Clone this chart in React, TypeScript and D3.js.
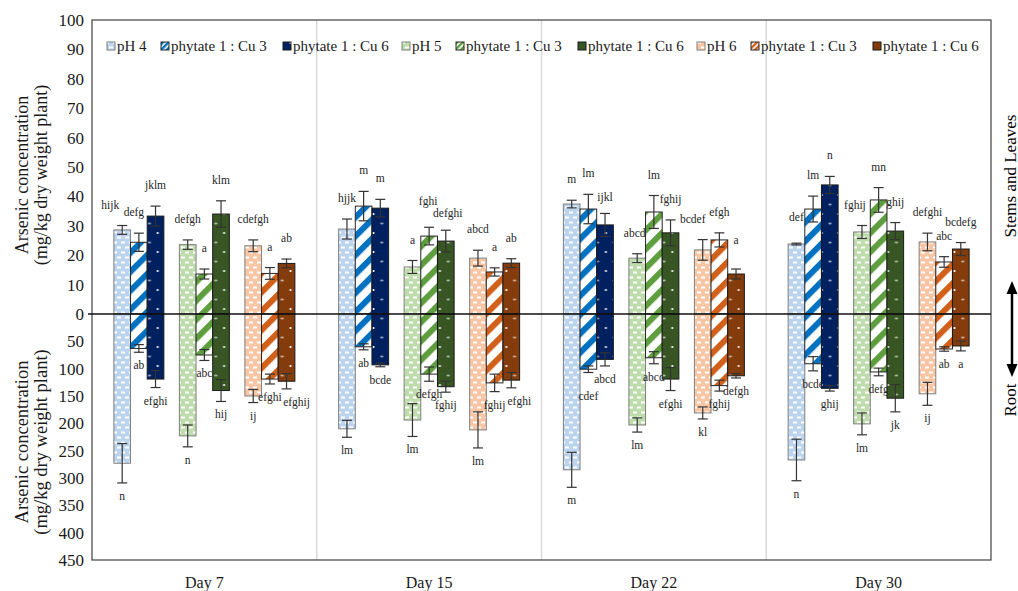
import * as d3 from 'd3';

const WIDTH = 1018;
const HEIGHT = 591;
const PLOT = { left: 92, right: 991, top: 20, bottom: 560, zero: 314 };
const FONT = 'Liberation Serif, Times New Roman, DejaVu Serif, serif';

const days = ['Day 7', 'Day 15', 'Day 22', 'Day 30'];
const phLevels = ['pH 4', 'pH 5', 'pH 6'];
const treatments = ['pH', 'phytate 1 : Cu 3', 'phytate 1 : Cu 6'];
const upperTicks = [0, 10, 20, 30, 40, 50, 60, 70, 80, 90, 100];
const lowerTicks = [50, 100, 150, 200, 250, 300, 350, 400, 450];

// stems and leaves (upper half), one value per day
const stemsPh4 = [28.6, 28.9, 37.4, 23.8];
const stemsPh4Cu3 = [24.4, 36.7, 35.7, 35.7];
const stemsPh4Cu6 = [33.3, 36, 30.3, 43.9];
const stemsPh5 = [23.6, 16, 19, 27.9];
const stemsPh5Cu3 = [13.6, 26.5, 34.7, 38.8];
const stemsPh5Cu6 = [34, 24.8, 27.6, 28.2];
const stemsPh6 = [23.2, 19, 21.8, 24.5];
const stemsPh6Cu3 = [13.8, 14.3, 25.2, 17.7];
const stemsPh6Cu6 = [17.2, 17.3, 13.6, 22.1];

const stemsErrPh4 = [1.5, 3.4, 1.3, 0.3];
const stemsErrPh4Cu3 = [3.1, 5, 5, 4.4];
const stemsErrPh4Cu6 = [3.4, 3, 3.9, 2.9];
const stemsErrPh5 = [1.6, 2.2, 1.5, 2.2];
const stemsErrPh5Cu3 = [1.7, 3, 5.6, 4.2];
const stemsErrPh5Cu6 = [4.5, 3.7, 4.4, 2.9];
const stemsErrPh6 = [2, 2.7, 3.5, 3];
const stemsErrPh6Cu3 = [2, 1.4, 2.4, 1.8];
const stemsErrPh6Cu6 = [1.5, 1.5, 1.7, 2.2];

// root (lower half)
const rootPh4 = [273, 210, 285, 267];
const rootPh4Cu3 = [63, 60, 101, 91];
const rootPh4Cu6 = [119, 93, 83, 136];
const rootPh5 = [223, 194, 203, 201];
const rootPh5Cu3 = [75, 110, 80, 106];
const rootPh5Cu6 = [140, 133, 119, 154];
const rootPh6 = [150, 212, 181, 146];
const rootPh6Cu3 = [119, 126, 131, 64];
const rootPh6Cu6 = [123, 121, 113, 58.5];

const rootErrPh4 = [36, 15.5, 32, 38];
const rootErrPh4Cu3 = [7, 5.5, 6, 13];
const rootErrPh4Cu6 = [15.5, 3.5, 12, 5];
const rootErrPh5 = [20, 30, 13, 20];
const rootErrPh5Cu3 = [10, 13, 11, 7];
const rootErrPh5Cu6 = [20, 10, 21, 25];
const rootErrPh6 = [12, 33, 11, 21];
const rootErrPh6Cu3 = [9, 16, 10, 4];
const rootErrPh6Cu6 = [14, 14, 4, 9];

// significance letters
const stemsLetters = [
  ['hijk', 'hjjk', 'm', 'def'],
  ['defg', 'm', 'lm', 'lm'],
  ['jklm', 'm', 'ijkl', 'n'],
  ['defgh', 'a', 'abcde', 'fghij'],
  ['a', 'fghi', 'lm', 'mn'],
  ['klm', 'defghi', 'fghij', 'ghij'],
  ['cdefgh', 'abcd', 'bcdef', 'defghi'],
  ['a', 'a', 'efgh', 'abc'],
  ['ab', 'ab', 'a', 'bcdefg'],
];
const rootLetters = [
  ['n', 'lm', 'm', 'n'],
  ['ab', 'ab', 'cdef', 'bcde'],
  ['efghi', 'bcde', 'abcd', 'ghij'],
  ['n', 'lm', 'lm', 'lm'],
  ['abc', 'defgh', 'abcd', 'defg'],
  ['hij', 'fghij', 'efghi', 'jk'],
  ['ij', 'lm', 'kl', 'ij'],
  ['efghi', 'fghij', 'fghij', 'ab'],
  ['efghij', 'efghi', 'defgh', 'a'],
];

const stems = [stemsPh4, stemsPh4Cu3, stemsPh4Cu6, stemsPh5, stemsPh5Cu3, stemsPh5Cu6, stemsPh6, stemsPh6Cu3, stemsPh6Cu6];
const stemsErr = [stemsErrPh4, stemsErrPh4Cu3, stemsErrPh4Cu6, stemsErrPh5, stemsErrPh5Cu3, stemsErrPh5Cu6, stemsErrPh6, stemsErrPh6Cu3, stemsErrPh6Cu6];
const roots = [rootPh4, rootPh4Cu3, rootPh4Cu6, rootPh5, rootPh5Cu3, rootPh5Cu6, rootPh6, rootPh6Cu3, rootPh6Cu6];
const rootsErr = [rootErrPh4, rootErrPh4Cu3, rootErrPh4Cu6, rootErrPh5, rootErrPh5Cu3, rootErrPh5Cu6, rootErrPh6, rootErrPh6Cu3, rootErrPh6Cu6];

// colours per pH level: light fill, stripe, dark fill
const lightColors = ['#bcd4ee', '#bfdcad', '#f8c6a4'];
const stripeColors = ['#0070c0', '#5f9e3f', '#d0601a'];
const darkColors = ['#002060', '#375623', '#843c0c'];
const barStrokes = ['#7f7f7f', '#262626', '#1a1a1a'];

// small hand placement of letters, like the text boxes in the original
const upperNudge: Record<string, [number, number]> = {
  '0-0': [-12, 0], '1-0': [-5, 0], '6-2': [-10, 0], '8-2': [0, -8],
  '3-3': [-7, 0], '0-3': [0, -5], '2-2': [0, 5], '5-1': [2, 4], '4-1': [-1, -5],
};
const lowerNudge: Record<string, [number, number]> = {
  '8-0': [10, 0], '8-1': [8, 0], '1-2': [0, 10],
};
const LEGEND_STEP = [54, 122, 119];

function patternId(p: number, t: number) {
  return `pat-${p}-${t}`;
}

function Patterns() {
  return (
    <defs>
      {phLevels.map((_, p) => (
        <g key={p}>
          <pattern id={patternId(p, 0)} patternUnits="userSpaceOnUse" width={8} height={10}>
            <rect width={8} height={10} fill={lightColors[p]} />
            <rect x={1} y={1.5} width={4} height={2} fill="#fff" />
            <rect x={5} y={6.5} width={4} height={2} fill="#fff" />
            <rect x={-3} y={6.5} width={4} height={2} fill="#fff" />
          </pattern>
          <pattern id={patternId(p, 1)} patternUnits="userSpaceOnUse" width={13.4} height={13.4} patternTransform="rotate(45)">
            <rect width={13.4} height={13.4} fill="#fff" />
            <rect width={6} height={13.4} fill={stripeColors[p]} />
          </pattern>
          <pattern id={patternId(p, 2)} patternUnits="userSpaceOnUse" width={16.6} height={19}>
            <rect width={16.6} height={19} fill={darkColors[p]} />
            <circle cx={8.3} cy={5} r={1.1} fill="#fff" />
            <circle cx={0.6} cy={14.5} r={1} fill="#fff" opacity={0.6} />
            <circle cx={16} cy={14.5} r={1} fill="#fff" opacity={0.6} />
          </pattern>
          <pattern id={`leg-${p}`} patternUnits="userSpaceOnUse" width={4} height={4} patternTransform="rotate(45)">
            <rect width={4} height={4} fill="#fff" />
            <rect width={2.4} height={4} fill={stripeColors[p]} />
          </pattern>
        </g>
      ))}
    </defs>
  );
}

export default function App() {
  const xDay = d3.scaleBand().domain(days).range([PLOT.left, PLOT.right]);
  const xPh = d3.scaleBand().domain(phLevels).range([0, xDay.bandwidth()]).paddingInner(0.237).paddingOuter(0.334);
  const xTrt = d3.scaleBand().domain(treatments).range([0, xPh.bandwidth()]);
  const yUp = d3.scaleLinear().domain([0, 100]).range([PLOT.zero, PLOT.top]);
  const yDown = d3.scaleLinear().domain([0, 450]).range([PLOT.zero, PLOT.bottom]);
  const bw = xTrt.bandwidth();

  const marks: JSX.Element[] = [];
  stems.forEach((vals, s) => {
    const p = Math.floor(s / 3);
    const t = s % 3;
    vals.forEach((v, d) => {
      const x = (xDay(days[d]) ?? 0) + (xPh(phLevels[p]) ?? 0) + (xTrt(treatments[t]) ?? 0);
      const cx = x + bw / 2;
      const e = stemsErr[s][d];
      const r = roots[s][d];
      const re = rootsErr[s][d];
      const un = upperNudge[`${s}-${d}`] ?? [0, 0];
      const ln = lowerNudge[`${s}-${d}`] ?? [0, 0];
      marks.push(
        <g key={`${s}-${d}`}>
          <rect x={x} y={yUp(v)} width={bw} height={PLOT.zero - yUp(v)} fill={`url(#${patternId(p, t)})`} stroke={barStrokes[t]} strokeWidth={1} />
          <rect x={x} y={PLOT.zero} width={bw} height={yDown(r) - PLOT.zero} fill={`url(#${patternId(p, t)})`} stroke={barStrokes[t]} strokeWidth={1} />
          <g stroke="#333" strokeWidth={1.2}>
            <line x1={cx} x2={cx} y1={yUp(v + e)} y2={yUp(v - e)} />
            <line x1={cx - 5} x2={cx + 5} y1={yUp(v + e)} y2={yUp(v + e)} />
            <line x1={cx - 5} x2={cx + 5} y1={yUp(v - e)} y2={yUp(v - e)} />
            <line x1={cx} x2={cx} y1={yDown(r - re)} y2={yDown(r + re)} />
            <line x1={cx - 5} x2={cx + 5} y1={yDown(r - re)} y2={yDown(r - re)} />
            <line x1={cx - 5} x2={cx + 5} y1={yDown(r + re)} y2={yDown(r + re)} />
          </g>
          <text x={cx + un[0]} y={yUp(v + e) - 21 + un[1]} dy="0.35em" textAnchor="middle" fontSize={11.5} fill="#262626">
            {stemsLetters[s][d]}
          </text>
          <text x={cx + ln[0]} y={yDown(r + re) + 13 + ln[1]} dy="0.35em" textAnchor="middle" fontSize={11.5} fill="#262626">
            {rootLetters[s][d]}
          </text>
        </g>
      );
    });
  });

  // legend positions
  const legendItems: { label: string; p: number; t: number; x: number }[] = [];
  let lx = 107;
  phLevels.forEach((ph, p) => {
    treatments.forEach((trt, t) => {
      legendItems.push({ label: t === 0 ? ph : trt, p, t, x: lx });
      lx += LEGEND_STEP[t];
    });
  });

  return (
    <svg width={WIDTH} height={HEIGHT} style={{ position: 'absolute', left: 0, top: 0, background: '#fff', fontFamily: FONT }}>
      <Patterns />
      <rect width={WIDTH} height={HEIGHT} fill="#fff" />

      {/* day separators */}
      {days.slice(1).map((d) => (
        <line key={d} x1={xDay(d)} x2={xDay(d)} y1={PLOT.top} y2={PLOT.bottom} stroke="#d9d9d9" strokeWidth={1.5} />
      ))}

      {marks}

      {/* frame */}
      <rect x={PLOT.left} y={PLOT.top} width={PLOT.right - PLOT.left} height={PLOT.bottom - PLOT.top} fill="none" stroke="#404040" strokeWidth={1.2} />
      <line x1={PLOT.left - 4} x2={PLOT.right} y1={PLOT.zero} y2={PLOT.zero} stroke="#111" strokeWidth={1.3} />

      {/* tick labels */}
      {upperTicks.map((t) => (
        <text key={`u${t}`} x={84} y={yUp(t)} dy="0.35em" textAnchor="end" fontSize={17} fill="#1a1a1a">{t}</text>
      ))}
      {lowerTicks.map((t) => (
        <text key={`l${t}`} x={84} y={yDown(t)} dy="0.35em" textAnchor="end" fontSize={17} fill="#1a1a1a">{t}</text>
      ))}

      {/* category labels */}
      {days.map((d) => (
        <text key={d} x={(xDay(d) ?? 0) + xDay.bandwidth() / 2} y={588} textAnchor="middle" fontSize={16} fill="#1a1a1a">{d}</text>
      ))}

      {/* axis titles */}
      <g fontSize={18} fill="#1a1a1a" textAnchor="middle" dominantBaseline="central">
        <text transform={`translate(22,${(yUp(100) + PLOT.zero) / 2 + 8}) rotate(-90)`}>Arsenic  concentration</text>
        <text transform={`translate(41,${(yUp(100) + PLOT.zero) / 2 + 8}) rotate(-90)`}>(mg/kg dry weight plant)</text>
        <text transform={`translate(22,${(yDown(450) + PLOT.zero) / 2 + 5}) rotate(-90)`} fontSize={18.5}>Arsenic  concentration</text>
        <text transform={`translate(41,${(yDown(450) + PLOT.zero) / 2 + 5}) rotate(-90)`} fontSize={18.5}>(mg/kg dry weight plant)</text>
      </g>

      {/* legend */}
      {legendItems.map((it, i) => (
        <g key={i}>
          <rect x={it.x} y={42} width={8} height={8} fill={it.t === 1 ? `url(#leg-${it.p})` : `url(#${patternId(it.p, it.t)})`} stroke={barStrokes[it.t]} strokeWidth={1} />
          <text x={it.x + 10} y={51} fontSize={15} fill="#1a1a1a">{it.label}</text>
        </g>
      ))}

      {/* right side annotation */}
      <g fill="#000" fontSize={17} textAnchor="middle" dominantBaseline="central">
        <text transform="translate(1010,176) rotate(-90)">Stems and Leaves</text>
        <text transform="translate(1010,400) rotate(-90)">Root</text>
      </g>
      <line x1={1012} x2={1012} y1={292} y2={366} stroke="#000" strokeWidth={2.5} />
      <path d="M1012,281 L1006.5,294 L1017.5,294 Z" fill="#000" />
      <path d="M1012,377 L1006.5,364 L1017.5,364 Z" fill="#000" />
    </svg>
  );
}
